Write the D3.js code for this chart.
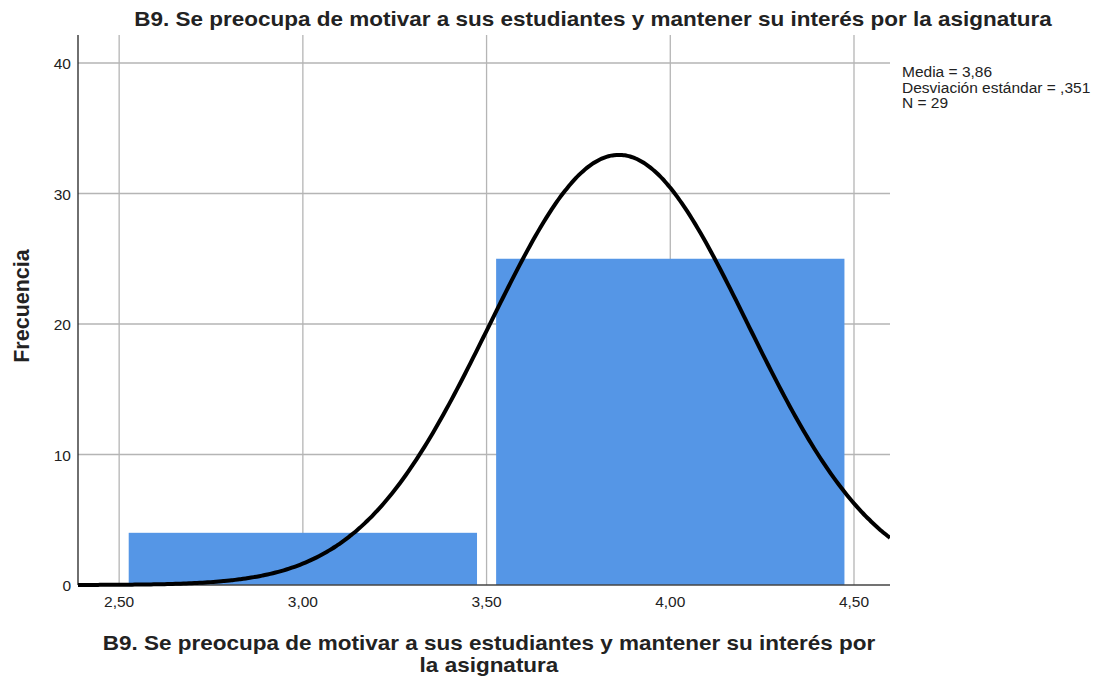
<!DOCTYPE html>
<html><head><meta charset="utf-8">
<script src="https://cdn.jsdelivr.net/npm/d3@7"></script>
<style>body{margin:0;background:#fff}svg{display:block}text{font-family:"Liberation Sans",Arial,sans-serif}</style>
</head><body>
<svg id="c" width="1094" height="679"></svg>
<script>
const binStarts = [2.5, 3.5];
const binEnds = [3.5, 4.5];
const frequencies = [4, 25];
const xTicks = [2.5, 3.0, 3.5, 4.0, 4.5];
const yTicks = [0, 10, 20, 30, 40];
const mean = 3.86, sd = 0.351, n = 29;
const legendLines = ["Media = 3,86", "Desviación estándar = ,351", "N = 29"];
const title = "B9. Se preocupa de motivar a sus estudiantes y mantener su interés por la asignatura";
const xTitle = ["B9. Se preocupa de motivar a sus estudiantes y mantener su interés por", "la asignatura"];
const yTitle = "Frecuencia";

const svg = d3.select("#c");
const L = 78, R = 890, T = 35, B = 585;
const x = d3.scaleLinear().domain([2.388, 4.598]).range([L, R]);
const y = d3.scaleLinear().domain([0, 40]).range([B, 63]);
const fmt = v => d3.format(".2f")(v).replace(".", ",");

// grid
svg.append("g").selectAll("line").data(yTicks.filter(d => d > 0)).join("line")
  .attr("x1", L).attr("x2", R).attr("y1", d => y(d)).attr("y2", d => y(d))
  .attr("stroke", "#b5b5b5").attr("stroke-width", 1.3);
svg.append("g").selectAll("line").data(xTicks).join("line")
  .attr("x1", d => x(d)).attr("x2", d => x(d)).attr("y1", T).attr("y2", B)
  .attr("stroke", "#b5b5b5").attr("stroke-width", 1.3);

// bars
const pad = 0.026;
svg.append("g").selectAll("rect").data(frequencies).join("rect")
  .attr("x", (d, i) => x(binStarts[i] + pad))
  .attr("width", (d, i) => x(binEnds[i] - pad) - x(binStarts[i] + pad))
  .attr("y", d => y(d)).attr("height", d => y(0) - y(d))
  .attr("fill", "#5596e6");

// axes lines
svg.append("line").attr("x1", L).attr("x2", L).attr("y1", T).attr("y2", B).attr("stroke", "#222").attr("stroke-width", 1.3);
svg.append("line").attr("x1", L).attr("x2", R).attr("y1", B).attr("y2", B).attr("stroke", "#444").attr("stroke-width", 1.3);

// normal curve
const bw = 1.0;
const pts = d3.range(0, 301).map(i => {
  const v = x.domain()[0] + (x.domain()[1] - x.domain()[0]) * i / 300;
  return [v, n * bw / (sd * Math.sqrt(2 * Math.PI)) * Math.exp(-0.5 * ((v - mean) / sd) ** 2)];
});
svg.append("clipPath").attr("id", "clip").append("rect").attr("x", L).attr("y", T).attr("width", R - L).attr("height", B - T + 3);
svg.append("path").datum(pts).attr("clip-path", "url(#clip)")
  .attr("d", d3.line().x(d => x(d[0])).y(d => y(d[1])).curve(d3.curveBasis))
  .attr("fill", "none").attr("stroke", "#000").attr("stroke-width", 4);

// tick labels
svg.append("g").selectAll("text").data(yTicks).join("text")
  .attr("x", 71).attr("y", d => y(d) + 6).attr("text-anchor", "end")
  .attr("font-size", 15.5).attr("fill", "#222").text(d => d);
svg.append("g").selectAll("text").data(xTicks).join("text")
  .attr("x", d => x(d)).attr("y", 607).attr("text-anchor", "middle")
  .attr("font-size", 15.5).attr("fill", "#222").text(fmt);

// titles (slightly widened glyphs)
const sx = 22.5 / 19.5;
svg.append("text").attr("transform", `translate(593,26) scale(${sx},1)`).attr("text-anchor", "middle")
  .attr("font-size", 19.5).attr("font-weight", "bold").attr("fill", "#222").text(title);
svg.append("g").selectAll("text").data(xTitle).join("text")
  .attr("transform", (d, i) => `translate(489,${650 + i * 22}) scale(${sx},1)`).attr("text-anchor", "middle")
  .attr("font-size", 19.5).attr("font-weight", "bold").attr("fill", "#222").text(d => d);
svg.append("text").attr("transform", "translate(29,306) rotate(-90)").attr("text-anchor", "middle")
  .attr("font-size", 21.5).attr("font-weight", "bold").attr("fill", "#222").text(yTitle);

// legend
svg.append("g").selectAll("text").data(legendLines).join("text")
  .attr("x", 902).attr("y", (d, i) => 77 + i * 15.5)
  .attr("font-size", 15.5).attr("fill", "#222").text(d => d);
</script>
</body></html>
